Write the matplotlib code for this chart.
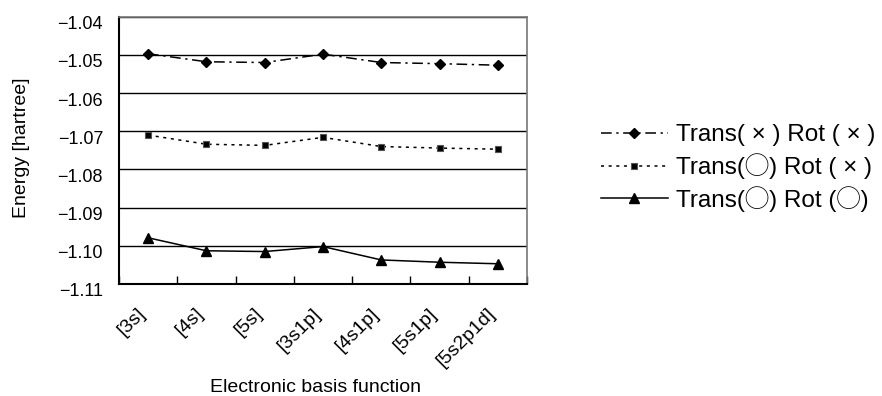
import matplotlib
matplotlib.use("Agg")
import matplotlib.pyplot as plt
from matplotlib.transforms import ScaledTranslation

plt.rcParams['font.family'] = ['Liberation Sans', 'Noto Sans CJK JP', 'DejaVu Sans']
plt.rcParams['axes.unicode_minus'] = True

categories = ["[3s]", "[4s]", "[5s]", "[3s1p]", "[4s1p]", "[5s1p]", "[5s2p1d]"]
trans_x_rot_x = [-1.0497, -1.0518, -1.0520, -1.0498, -1.0520, -1.0523, -1.0527]
trans_o_rot_x = [-1.0710, -1.0734, -1.0737, -1.0716, -1.0740, -1.0744, -1.0747]
trans_o_rot_o = [-1.0979, -1.1013, -1.1015, -1.1002, -1.1037, -1.1043, -1.1047]
labels = ["Trans( × ) Rot ( × )", "Trans(◯) Rot ( × )", "Trans(◯) Rot (◯)"]
yticks = [-1.04, -1.05, -1.06, -1.07, -1.08, -1.09, -1.10, -1.11]
ytick_labels = ["−1.04", "−1.05", "−1.06", "−1.07", "−1.08", "−1.09", "−1.10", "−1.11"]

W, H = 882, 396
fig = plt.figure(figsize=(W / 100, H / 100), dpi=100)
ax = fig.add_axes([119 / W, 1 - 284 / H, (527 - 119) / W, (284 - 16.7) / H])

x = list(range(len(categories)))
ax.plot(x, trans_x_rot_x, color='black', lw=1.1, dashes=(7, 3, 1.5, 3),
        marker='D', ms=4.6, label=labels[0])
ax.plot(x, trans_o_rot_x, color='black', lw=1.1, dashes=(2, 3),
        marker='s', ms=4.6, mfc='black', mec='#555555', mew=0.8, label=labels[1])
ax.plot(x, trans_o_rot_o, color='black', lw=1.1, linestyle='-',
        marker='^', ms=7, label=labels[2])

ax.set_xlim(-0.5, len(categories) - 0.5)
ax.set_ylim(-1.11, -1.04)
ax.set_yticks(yticks)
ax.set_yticklabels(ytick_labels, fontsize=13)
ax.tick_params(axis='y', length=0, pad=11.5)
off = ScaledTranslation(0, -6 / 100, fig.dpi_scale_trans)
for lab in ax.get_yticklabels():
    lab.set_transform(lab.get_transform() + off)
ax.yaxis.grid(True, color='black', lw=1)
ax.set_axisbelow(True)

ax.set_xticks([i + 0.5 for i in range(-1, len(categories))], minor=False)
ax.set_xticklabels([])
ax.tick_params(axis='x', which='major', direction='in', length=6, width=1, color='black')
ax.set_xticks(x, minor=True)
ax.set_xticklabels(categories, minor=True, rotation=45, ha='right', va='top',
                   rotation_mode='anchor', fontsize=14)
ax.tick_params(axis='x', which='minor', length=0, pad=15)
offx = ScaledTranslation(-11 / 100, 0, fig.dpi_scale_trans)
for lab in ax.get_xticklabels(minor=True):
    lab.set_transform(lab.get_transform() + offx)

for s in ['left', 'bottom']:
    ax.spines[s].set_color('black')
    ax.spines[s].set_linewidth(1.5)
for s in ['top', 'right']:
    ax.spines[s].set_color('#777777')
    ax.spines[s].set_linewidth(1.2)

fig.text(22 / W, 1 - 148 / H, "Energy [hartree]", rotation=90, ha='center', va='center', fontsize=14)
fig.text(315 / W, 1 - 388 / H, "Electronic basis function", ha='center', va='center', fontsize=14)

fig.legend(loc='center left', bbox_to_anchor=(601 / W, 1 - 168 / H), frameon=False,
           fontsize=17.5, handlelength=2.75, handletextpad=0.35, labelspacing=0.28,
           borderpad=0, borderaxespad=0)

fig.savefig("out.png", dpi=100)
